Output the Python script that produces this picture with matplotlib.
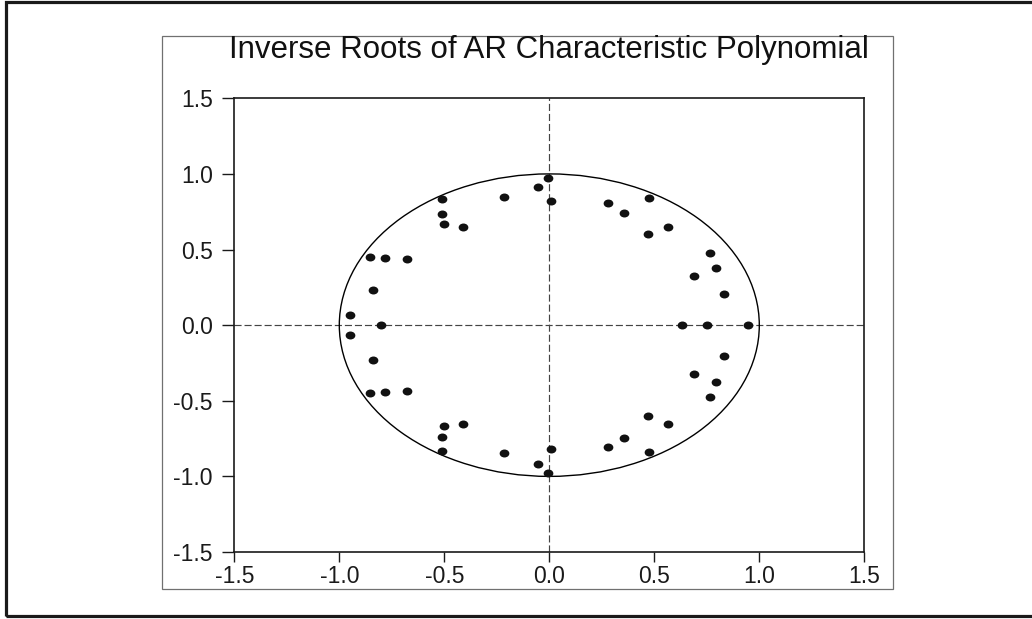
import matplotlib
matplotlib.use("Agg")
import matplotlib.pyplot as plt
from matplotlib.patches import Circle, Rectangle
from matplotlib.path import Path
from matplotlib.transforms import Affine2D

plt.rcParams['font.family'] = ['Liberation Sans', 'DejaVu Sans']
plt.rcParams['axes.unicode_minus'] = False

title = "Inverse Roots of AR Characteristic Polynomial"
tick_values = [-1.5, -1.0, -0.5, 0.0, 0.5, 1.0, 1.5]
tick_labels = ["-1.5", "-1.0", "-0.5", "0.0", "0.5", "1.0", "1.5"]

# inverse roots (real part, imaginary part)
roots_real = [
    -0.008, -0.054, 0.010, -0.216, -0.511, -0.513, -0.503, -0.411,
    -0.852, -0.782, -0.676, -0.841, -0.951,
    0.281, 0.356, 0.476, 0.567, 0.468, 0.764, 0.794, 0.689, 0.832,
    -0.008, -0.054, 0.010, -0.216, -0.511, -0.513, -0.503, -0.411,
    -0.852, -0.782, -0.676, -0.841, -0.951,
    0.281, 0.356, 0.476, 0.567, 0.468, 0.764, 0.794, 0.689, 0.832,
    -0.803, 0.630, 0.751, 0.948,
]
roots_imag = [
    0.975, 0.915, 0.822, 0.846, 0.834, 0.737, 0.666, 0.651,
    0.451, 0.442, 0.436, 0.231, 0.065,
    0.808, 0.744, 0.838, 0.651, 0.603, 0.477, 0.375, 0.322, 0.206,
    -0.975, -0.915, -0.822, -0.846, -0.834, -0.737, -0.666, -0.651,
    -0.451, -0.442, -0.436, -0.231, -0.065,
    -0.808, -0.744, -0.838, -0.651, -0.603, -0.477, -0.375, -0.322, -0.206,
    0.000, 0.000, 0.000, 0.000,
]

W, H = 1032, 619
fig = plt.figure(figsize=(W / 100, H / 100), dpi=100)
fig.patch.set_facecolor('white')

# outer black frame
fig.add_artist(Rectangle((5.5 / W, 3.0 / H), (1040 - 5.5) / W, (617.0 - 3.0) / H,
                         transform=fig.transFigure, fill=False,
                         edgecolor='#1a1a1a', linewidth=2.3, clip_on=False))
# inner grey frame
fig.add_artist(Rectangle((162.0 / W, (H - 588.7) / H), (893.3 - 162.0) / W,
                         (588.7 - 36.0) / H, transform=fig.transFigure,
                         fill=False, edgecolor='#707070', linewidth=0.9,
                         clip_on=False))

ax = fig.add_axes([234.3 / W, (H - 552.0) / H, 630.0 / W, 453.7 / H])
ax.set_xlim(-1.5, 1.5)
ax.set_ylim(-1.5, 1.5)

ax.axhline(0, color='#444444', lw=0.85, ls=(0, (6, 2.5)), zorder=1)
ax.axvline(0, color='#444444', lw=0.85, ls=(0, (6, 2.5)), zorder=1)
ax.add_patch(Circle((0, 0), 1.0, fill=False, edgecolor='black', lw=1.0, zorder=2))

ell = Path.unit_circle().transformed(Affine2D().scale(1.0, 0.82))
ax.plot(roots_real, roots_imag, ls='none', marker=ell, markersize=7.0,
        color='#111111', markeredgewidth=0, zorder=3)

ax.set_xticks(tick_values)
ax.set_xticklabels(tick_labels)
ax.set_yticks(tick_values)
ax.set_yticklabels(tick_labels)
for s in ax.spines.values():
    s.set_linewidth(1.2)
    s.set_color('#1a1a1a')
ax.tick_params(axis='x', direction='out', length=7.2, width=1.0, pad=2.0,
               labelsize=16.5, colors='#1a1a1a')
ax.tick_params(axis='y', direction='out', length=9.0, width=1.0, pad=6.5,
               labelsize=16.5, colors='#1a1a1a')

fig.text(549.0 / W, (H - 58.3) / H, title, ha='center', va='baseline',
         fontsize=22.5, color='#111111')

fig.savefig('out.png', dpi=100, facecolor='white')
